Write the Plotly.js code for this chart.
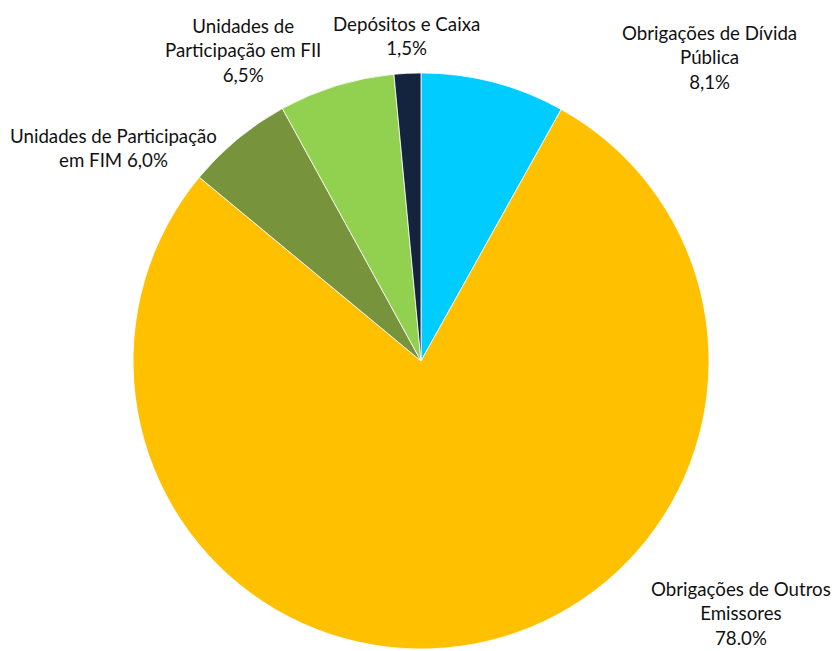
<!DOCTYPE html>
<html>
<head>
<meta charset="utf-8">
<script src="https://cdn.plot.ly/plotly-3.0.1.min.js"></script>
<style>html,body{margin:0;padding:0;background:#fff;}#chart{width:837px;height:651px;}</style>
</head>
<body>
<div id="chart"></div>
<script>
const categories = ["Obrigações de Dívida Pública", "Obrigações de Outros Emissores", "Unidades de Participação em FIM", "Unidades de Participação em FII", "Depósitos e Caixa"];
const values = [8.1, 78.0, 6.0, 6.5, 1.5];
const valueLabels = ["8,1%", "78.0%", "6,0%", "6,5%", "1,5%"];
const labelTexts = [
  "Obrigações de Dívida<br>Pública<br>8,1%",
  "Obrigações de Outros<br>Emissores<br>78.0%",
  "Unidades de Participação<br>em FIM 6,0%",
  "Unidades de<br>Participação em FII<br>6,5%",
  "Depósitos e Caixa<br>1,5%"
];
const colors = ["#00CCFF", "#FFC000", "#77933C", "#92D050", "#14243E"];
const labelPos = [[0.848, 0.912], [0.885, 0.058], [0.136, 0.773], [0.290, 0.923], [0.486, 0.944]];

const trace = {
  type: "pie",
  labels: categories,
  values: values,
  text: valueLabels,
  sort: false,
  direction: "clockwise",
  rotation: 0,
  marker: {colors: colors, line: {color: "#ffffff", width: 0.8}},
  textinfo: "none",
  hoverinfo: "label+text",
  domain: {x: [0.1589, 0.8471], y: [0.003, 0.888]},
  showlegend: false
};

const annotations = labelTexts.map((t, i) => ({
  text: t,
  xref: "paper", yref: "paper",
  x: labelPos[i][0], y: labelPos[i][1],
  xanchor: "center", yanchor: "middle",
  align: "center",
  showarrow: false,
  font: {family: "Lato, 'Open Sans', sans-serif", size: 18.7, color: "#111111"}
}));

const layout = {
  width: 837, height: 651,
  margin: {l: 0, r: 0, t: 0, b: 0},
  paper_bgcolor: "#ffffff",
  annotations: annotations,
  showlegend: false
};

Plotly.newPlot("chart", [trace], layout, {displayModeBar: false, staticPlot: true});
</script>
</body>
</html>
